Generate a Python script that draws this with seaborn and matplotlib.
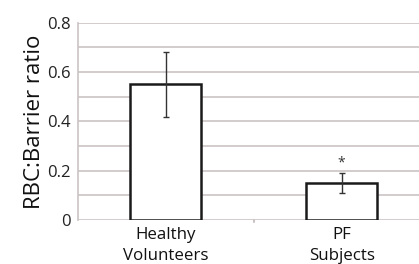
import matplotlib
matplotlib.use("Agg")
import matplotlib.pyplot as plt
import pandas as pd
import seaborn as sns

groups = ["Healthy\nVolunteers", "PF\nSubjects"]
ratio_mean = [0.55, 0.15]
ratio_err = [0.133, 0.04]
significance = ["", "*"]

GRID = "#cbc3c3"


def main() -> None:
    sns.set_style("white")
    plt.rcParams["font.family"] = ["Open Sans", "DejaVu Sans"]

    data = pd.DataFrame({"group": groups, "ratio": ratio_mean})

    fig = plt.figure(figsize=(4.19, 2.64), dpi=100)
    ax = fig.add_axes([78 / 419, 44 / 264, 341 / 419, 197.3 / 264])

    sns.barplot(
        data=data, x="group", y="ratio", ax=ax,
        color="white", edgecolor="#1a1a1a", linewidth=1.8, width=0.405,
        errorbar=None, zorder=3,
    )
    ax.errorbar(
        range(len(groups)), ratio_mean, yerr=ratio_err, fmt="none",
        ecolor="#333333", elinewidth=1.0, capsize=2.5, capthick=1.0, zorder=4,
    )
    for i, (m, e, s) in enumerate(zip(ratio_mean, ratio_err, significance)):
        if s:
            ax.text(i, m + e + 0.012, s, ha="center", va="bottom", fontsize=10, color="#333333")

    ax.set_ylim(0, 0.8)
    ax.set_xlim(-0.5, 1.44)
    ax.set_yticks([i / 10 for i in range(9)])
    ax.set_yticklabels(["0", "", "0.2", "", "0.4", "", "0.6", "", "0.8"], fontsize=12, color="#222222")
    ax.yaxis.grid(True, color=GRID, linewidth=1.2, zorder=0)
    ax.set_axisbelow(True)
    ax.tick_params(axis="y", length=4, color=GRID, pad=1)
    ax.tick_params(axis="x", length=0, pad=5)
    ax.set_xticks([0, 1])
    ax.set_xticklabels(groups, fontsize=12.2, linespacing=1.4, color="#111111")
    ax.set_xlabel("")
    ax.set_ylabel("RBC:Barrier ratio", fontsize=16, labelpad=2, color="#111111")
    ax.axvline(0.5, ymin=-0.012, ymax=0, color=GRID, clip_on=False)

    for side in ["top", "right", "bottom"]:
        ax.spines[side].set_visible(False)
    ax.spines["left"].set_color(GRID)
    ax.spines["left"].set_linewidth(1.2)

    fig.savefig("out.png", dpi=100)
    plt.close(fig)


if __name__ == "__main__":
    main()
